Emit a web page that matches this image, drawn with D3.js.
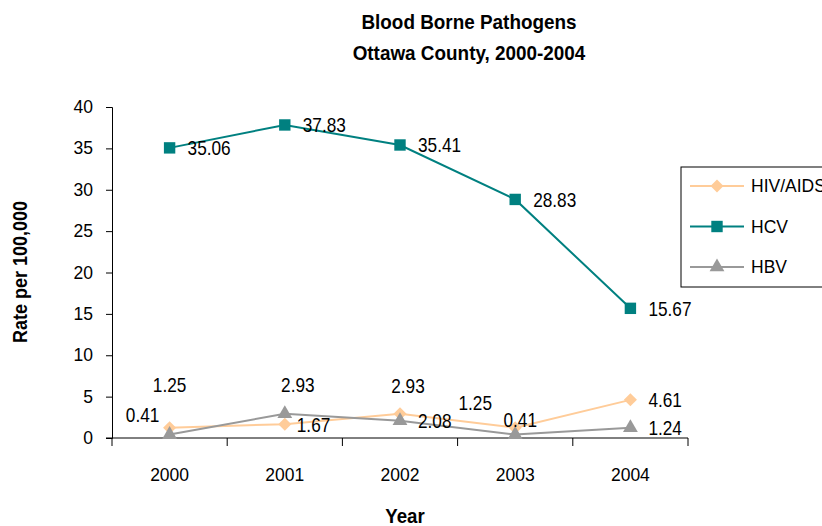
<!DOCTYPE html>
<html>
<head>
<meta charset="utf-8">
<script src="https://cdn.jsdelivr.net/npm/d3@7"></script>
<style>
  body { margin: 0; background: #fff; }
  text { font-family: "Liberation Sans", Arial, sans-serif; fill: #000; }
  .title, .axisTitle { font-weight: bold; }
</style>
</head>
<body>
<div id="chart"></div>
<script>
// chart data
var years = ["2000", "2001", "2002", "2003", "2004"];
var hivAids = [1.25, 1.67, 2.93, 1.25, 4.61];
var hcv = [35.06, 37.83, 35.41, 28.83, 15.67];
var hbv = [0.41, 2.93, 2.08, 0.41, 1.24];
var yTicks = [0, 5, 10, 15, 20, 25, 30, 35, 40];

var svgWidth = 822;
var svgHeight = 526;

var margin = { top: 107, right: 134, bottom: 88, left: 112 };
var width = svgWidth - margin.left - margin.right;
var height = svgHeight - margin.top - margin.bottom;

var svg = d3.select("#chart")
  .append("svg")
  .attr("width", svgWidth)
  .attr("height", svgHeight);

var chartGroup = svg.append("g")
  .attr("transform", `translate(${margin.left}, ${margin.top})`);

var xScale = d3.scaleBand()
  .domain(years)
  .range([0, width]);

var yScale = d3.scaleLinear()
  .domain([0, 40])
  .range([height, 0]);

// squeeze text horizontally, like a narrow font
function narrow(sel, k) {
  sel.each(function() {
    var t = d3.select(this);
    var x = +t.attr("x") || 0, y = +t.attr("y") || 0;
    t.attr("x", null).attr("y", null)
      .attr("transform", `translate(${x}, ${y}) scale(${k}, 1)`);
  });
}

var diamond = { draw: function(ctx, size) {
  var r = Math.sqrt(size / 2);
  ctx.moveTo(0, -r); ctx.lineTo(r, 0); ctx.lineTo(0, r); ctx.lineTo(-r, 0); ctx.closePath();
} };

// label placement per point (dx, dy from the marker, text anchor)
var series = [
  { name: "HIV/AIDS", values: hivAids, color: "#ffcc99", symbol: diamond, size: 85,
    labels: [[0, -43, "middle"], [12, 0, "start"], [8, -28, "middle"], [-40, -25, "middle"], [18, 0, "start"]] },
  { name: "HCV", values: hcv, color: "#008080", symbol: d3.symbolSquare, size: 130,
    labels: [[18, 0, "start"], [18, 0, "start"], [18, 0, "start"], [18, 0, "start"], [18, 0, "start"]] },
  { name: "HBV", values: hbv, color: "#999999", symbol: d3.symbolTriangle, size: 95,
    labels: [[-27, -20, "middle"], [13, -29, "middle"], [18, 0, "start"], [5, -15, "middle"], [18, 0, "start"]] }
];

// y axis
var yAxis = chartGroup.append("g")
  .call(d3.axisLeft(yScale).tickValues(yTicks).tickSize(6).tickPadding(13));
yAxis.select(".domain").attr("stroke", "#000");
yAxis.selectAll("text")
  .style("font-size", "17.5px")
  .style("font-family", "Liberation Sans, Arial, sans-serif");

// x axis with ticks between categories
var xAxis = chartGroup.append("g")
  .attr("transform", `translate(0, ${height})`);
xAxis.append("line")
  .attr("x1", -6).attr("x2", width)
  .attr("stroke", "#000");
xAxis.selectAll(".xtick")
  .data(d3.range(years.length + 1))
  .enter()
  .append("line")
  .attr("x1", i => i * xScale.step())
  .attr("x2", i => i * xScale.step())
  .attr("y1", 0).attr("y2", 8)
  .attr("stroke", "#000");
xAxis.selectAll(".xlabel")
  .data(years)
  .enter()
  .append("text")
  .attr("x", d => xScale(d) + xScale.bandwidth() / 2)
  .attr("y", 43)
  .attr("text-anchor", "middle")
  .style("font-size", "17.5px")
  .text(d => d);

var line = d3.line()
  .x((d, i) => xScale(years[i]) + xScale.bandwidth() / 2)
  .y(d => yScale(d));

series.forEach(function(s) {
  chartGroup.append("path")
    .datum(s.values)
    .attr("fill", "none")
    .attr("stroke", s.color)
    .attr("stroke-width", 2)
    .attr("d", line);
});

series.forEach(function(s) {
  chartGroup.selectAll(null)
    .data(s.values)
    .enter()
    .append("path")
    .attr("d", d3.symbol().type(s.symbol).size(s.size))
    .attr("transform", (d, i) => `translate(${xScale(years[i]) + xScale.bandwidth() / 2}, ${yScale(d)})`)
    .attr("fill", s.color);
});

series.forEach(function(s) {
  var labels = chartGroup.selectAll(null)
    .data(s.values)
    .enter()
    .append("text")
    .attr("x", (d, i) => xScale(years[i]) + xScale.bandwidth() / 2 + s.labels[i][0])
    .attr("y", (d, i) => yScale(d) + s.labels[i][1])
    .attr("dy", "0.35em")
    .attr("text-anchor", (d, i) => s.labels[i][2])
    .style("font-size", "21px")
    .text(d => d.toFixed(2));
  narrow(labels, 0.82);
});

// titles
var t1 = svg.append("text")
  .attr("class", "title")
  .attr("x", 469).attr("y", 29)
  .attr("text-anchor", "middle")
  .style("font-size", "21px")
  .text("Blood Borne Pathogens");
var t2 = svg.append("text")
  .attr("class", "title")
  .attr("x", 469).attr("y", 60)
  .attr("text-anchor", "middle")
  .style("font-size", "21px")
  .text("Ottawa County, 2000-2004");
narrow(t1, 0.9);
narrow(t2, 0.9);

svg.append("text")
  .attr("class", "axisTitle")
  .attr("transform", "translate(27, 272) rotate(-90) scale(0.9, 1)")
  .attr("text-anchor", "middle")
  .style("font-size", "20px")
  .text("Rate per 100,000");

var yearTitle = svg.append("text")
  .attr("class", "axisTitle")
  .attr("x", 405).attr("y", 523)
  .attr("text-anchor", "middle")
  .style("font-size", "21px")
  .text("Year");
narrow(yearTitle, 0.89);

// legend
var legend = svg.append("g")
  .attr("transform", "translate(681, 167)");
legend.append("rect")
  .attr("width", 150).attr("height", 120)
  .attr("fill", "#fff")
  .attr("stroke", "#000");
var legendItem = legend.selectAll(".item")
  .data(series)
  .enter()
  .append("g")
  .attr("transform", (d, i) => `translate(0, ${19 + i * 40.5})`);
legendItem.append("line")
  .attr("x1", 9).attr("x2", 63)
  .attr("stroke", d => d.color)
  .attr("stroke-width", 2);
legendItem.append("path")
  .attr("d", d => d3.symbol().type(d.symbol).size(d.size)())
  .attr("transform", "translate(36, 0)")
  .attr("fill", d => d.color);
legendItem.append("text")
  .attr("x", 70)
  .attr("dy", "0.35em")
  .style("font-size", "17.5px")
  .text(d => d.name);
</script>
</body>
</html>
